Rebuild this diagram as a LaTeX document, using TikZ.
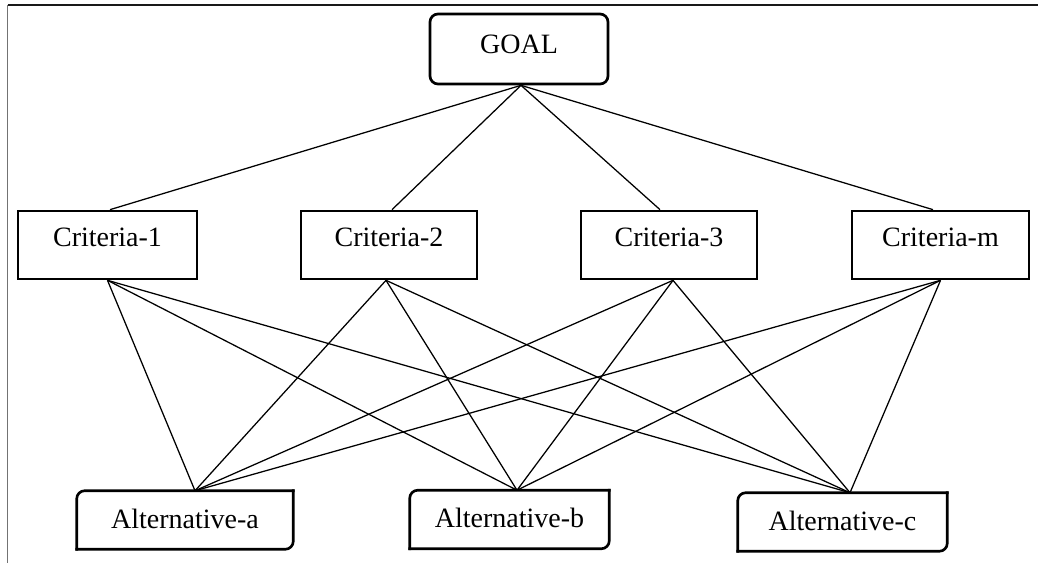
\documentclass[tikz,border=0pt]{standalone}
\usepackage{fontspec}
\setmainfont{Liberation Serif}
\usetikzlibrary{calc}
\begin{document}
\begin{tikzpicture}[x=0.75pt,y=-0.75pt,
  boxbase/.style={rectangle,minimum height=#1*0.75pt,inner sep=0pt,
    font=\fontsize{21}{25}\selectfont,text height=15pt},
  crit/.style={boxbase=68,draw,line width=2pt,text depth=12.5pt},
  goalbox/.style={boxbase=70,draw,line width=2pt,rounded corners=6pt,text depth=7.9pt},
  altbox/.style={boxbase=58,text depth=2.6pt},
  altline/.style={line width=2pt,rounded corners=6pt,line cap=rect},
  link/.style={line width=0.95pt},
  frametop/.style={line width=1.9pt,black!90},
  frameleft/.style={line width=1.3pt,black!55}]
\useasboundingbox (0,0) rectangle (1038,563);
\coordinate (f0) at (7.5,563);
\coordinate (f1) at (7.5,5);
\coordinate (f2) at (1038,5);
\draw[frameleft] (f0) -- (f1);
\draw[frametop] (f1) -- (f2);

\node[goalbox,minimum width=178*0.75pt] (G) at (519,49) {GOAL};
\node[crit,minimum width=179*0.75pt] (C1) at (107.5,245) {Criteria-1};
\node[crit,minimum width=176*0.75pt] (C2) at (389,245) {Criteria-2};
\node[crit,minimum width=176*0.75pt] (C3) at (669,245) {Criteria-3};
\node[crit,minimum width=177*0.75pt] (Cm) at (940.5,245) {Criteria-m};
\node[altbox,minimum width=216*0.75pt] (A) at (185,520) {Alternative-a};
\node[altbox,minimum width=199*0.75pt] (B) at (509.5,519.5) {Alternative-b};
\node[altbox,minimum width=209*0.75pt] (Cc) at (842.5,522) {Alternative-c};

\foreach \n in {A,B,Cc}{
  \draw[altline] (\n.south west) -- (\n.north west) -- (\n.north east);
  \draw[altline] (\n.north east) -- (\n.south east) -- (\n.south west);
}

\coordinate (g) at ($(G.south)+(2,0)$);
\coordinate (c1t) at ($(C1.north)+(2.5,0)$);
\coordinate (c2t) at ($(C2.north)+(3,0)$);
\coordinate (c3t) at ($(C3.north)+(-9,0)$);
\coordinate (cmt) at ($(Cm.north)+(-7.5,0)$);
\coordinate (c1b) at ($(C1.south)+(0,0)$);
\coordinate (c2b) at ($(C2.south)+(-3,0)$);
\coordinate (c3b) at ($(C3.south)+(4,0)$);
\coordinate (cmb) at ($(Cm.south)+(0,0)$);
\coordinate (at) at ($(A.north)+(10,0)$);
\coordinate (bt) at ($(B.north)+(7.5,0)$);
\coordinate (ct) at ($(Cc.north)+(7.5,0)$);

\foreach \c in {c1t,c2t,c3t,cmt} \draw[link] (g) -- (\c);
\foreach \c in {c1b,c2b,c3b,cmb}
  \foreach \a in {at,bt,ct} \draw[link] (\c) -- (\a);
\end{tikzpicture}
\end{document}
